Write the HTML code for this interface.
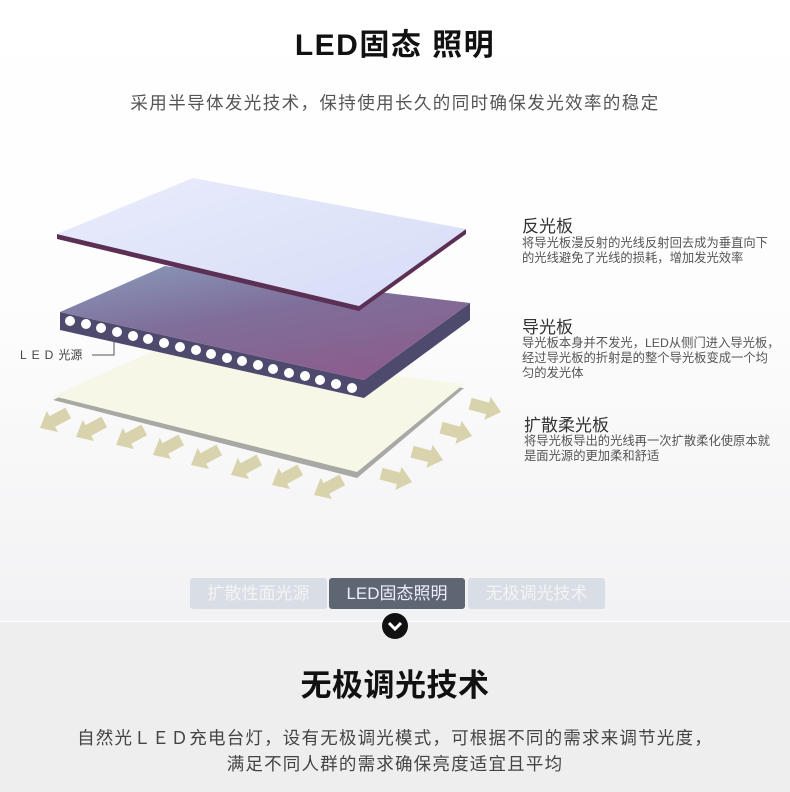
<!DOCTYPE html>
<html><head><meta charset="utf-8"><style>
body{margin:0;width:790px;height:791px;overflow:hidden;font-family:"Liberation Sans","Noto Sans CJK SC",sans-serif;position:relative;background:linear-gradient(#ffffff 0,#fdfdfd 300px,#f2f2f4 620px);}
.a{position:absolute;white-space:nowrap}
.h{font-size:17px;color:#333}
.d{font-size:12.3px;color:#555;line-height:15px}
</style></head><body>
<div class="a" style="left:0;width:790px;top:20px;text-align:center;font-size:30px;font-weight:bold;color:#111;letter-spacing:1.5px">LED固态 照明</div>
<div class="a" style="left:0;width:790px;top:90px;text-align:center;font-size:17.5px;color:#555;letter-spacing:1.4px">采用半导体发光技术，保持使用长久的同时确保发光效率的稳定</div>
<svg class="a" style="left:0;top:0" width="790" height="620">
<defs>
<linearGradient id="g1" x1="0" y1="0" x2="1" y2="1"><stop offset="0" stop-color="#e9ecfb"/><stop offset="1" stop-color="#d6dcf7"/></linearGradient>
<linearGradient id="g2" x1="0" y1="0" x2="0.6" y2="1"><stop offset="0" stop-color="#8a9abb"/><stop offset="0.5" stop-color="#7f6f9a"/><stop offset="1" stop-color="#8a5e8e"/></linearGradient>
<g id="ar"><polygon points="0,0 14,-12 14,-6 32,-6 32,6 14,6 14,12" fill="#d8d3ad"/></g>
</defs>
<polygon points="53,400 160,352 464,388 357,478" fill="#a8a8a4"/>
<polygon points="53,396 160,348 464,384 357,472" fill="#f6f7e6"/>
<g transform="translate(40,428) rotate(-28)"><use href="#ar"/></g>
<g transform="translate(76,437) rotate(-28)"><use href="#ar"/></g>
<g transform="translate(116,445) rotate(-28)"><use href="#ar"/></g>
<g transform="translate(153,455) rotate(-28)"><use href="#ar"/></g>
<g transform="translate(191,465) rotate(-28)"><use href="#ar"/></g>
<g transform="translate(231,475) rotate(-28)"><use href="#ar"/></g>
<g transform="translate(272,485) rotate(-28)"><use href="#ar"/></g>
<g transform="translate(314,495) rotate(-28)"><use href="#ar"/></g>
<g transform="translate(501,412) rotate(195)"><use href="#ar"/></g>
<g transform="translate(472,436) rotate(195)"><use href="#ar"/></g>
<g transform="translate(443,460) rotate(195)"><use href="#ar"/></g>
<g transform="translate(412,482) rotate(195)"><use href="#ar"/></g>
<polygon points="60,312 60,330 364,398 470,320 470,303 364,380" fill="#4e4a6e"/>
<polygon points="60,312 165,266 470,303 364,380" fill="url(#g2)"/>
<g fill="#fff">
<circle cx="70" cy="321" r="5"/><circle cx="86" cy="324" r="5"/><circle cx="101" cy="328" r="5"/><circle cx="117" cy="332" r="5"/><circle cx="133" cy="336" r="5"/><circle cx="148" cy="339" r="5"/><circle cx="164" cy="343" r="5"/><circle cx="180" cy="347" r="5"/><circle cx="196" cy="350" r="5"/><circle cx="211" cy="354" r="5"/><circle cx="227" cy="358" r="5"/><circle cx="242" cy="361" r="5"/><circle cx="258" cy="365" r="5"/><circle cx="273" cy="369" r="5"/><circle cx="289" cy="373" r="5"/><circle cx="305" cy="376" r="5"/><circle cx="320" cy="380" r="5"/><circle cx="336" cy="384" r="5"/><circle cx="352" cy="388" r="5"/>
</g>
<polyline points="92,355 114,355 114,336" fill="none" stroke="#555" stroke-width="1"/>
<polygon points="57,234 57,239 359,311 466,234 466,229 359,306" fill="#5c2f55"/>
<polygon points="57,234 193,178 466,229 359,306" fill="url(#g1)"/>
</svg>
<div class="a" style="left:20px;top:346px;font-size:12px;color:#444;letter-spacing:5px">LED<span style="letter-spacing:0">光源</span></div>
<div class="a h" style="left:522px;top:212px">反光板</div>
<div class="a d" style="left:522px;top:236px">将导光板漫反射的光线反射回去成为垂直向下<br>的光线避免了光线的损耗，增加发光效率</div>
<div class="a h" style="left:522px;top:313px">导光板</div>
<div class="a d" style="left:522px;top:336px">导光板本身并不发光，LED从侧门进入导光板，<br>经过导光板的折射是的整个导光板变成一个均<br>匀的发光体</div>
<div class="a h" style="left:524px;top:411px">扩散柔光板</div>
<div class="a d" style="left:524px;top:434px">将导光板导出的光线再一次扩散柔化使原本就<br>是面光源的更加柔和舒适</div>
<div class="a" style="left:0;top:621px;width:790px;height:170px;background:#eeeeee;border-top:1px solid #fff"></div>
<div class="a" style="left:190px;top:578px;width:137px;height:31px;background:#d9dde5;border-radius:3px;color:#f4f4f6;font-size:17px;text-align:center;line-height:31px">扩散性面光源</div>
<div class="a" style="left:329px;top:578px;width:136px;height:31px;background:#5f6673;border-radius:3px;color:#eef;font-size:17px;text-align:center;line-height:31px">LED固态照明</div>
<div class="a" style="left:468px;top:578px;width:137px;height:31px;background:#d9dde5;border-radius:3px;color:#f4f4f6;font-size:17px;text-align:center;line-height:31px">无极调光技术</div>
<svg class="a" style="left:381px;top:612px" width="28" height="28"><circle cx="14" cy="14" r="13" fill="#111"/><polyline points="8,11 14,17 20,11" fill="none" stroke="#fff" stroke-width="3"/></svg>
<div class="a" style="left:0;width:790px;top:660px;text-align:center;font-size:31px;font-weight:bold;color:#111;letter-spacing:0.5px">无极调光技术</div>
<div class="a" style="left:0;width:790px;top:725px;text-align:center;font-size:17.5px;color:#444;line-height:26px;letter-spacing:1.2px">自然光ＬＥＤ充电台灯，设有无极调光模式，可根据不同的需求来调节光度，<br>满足不同人群的需求确保亮度适宜且平均</div>
</body></html>
